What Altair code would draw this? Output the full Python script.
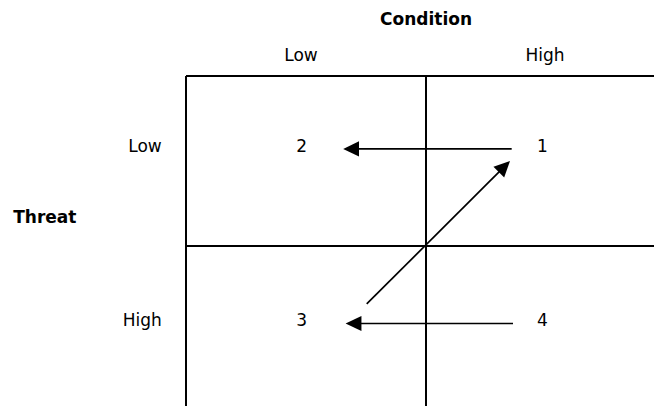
import math
import altair as alt
import pandas as pd

# ---------------- data ----------------
condition_levels = ["Low", "High"]          # columns
threat_levels = ["Low", "High"]             # rows
quadrant_numbers = [[2, 1], [3, 4]]         # [row][col]
row_title = "Threat"
col_title = "Condition"

# arrows (start -> tip) in grid units (1 unit = one cell)
arrow_start_u = [1.357, 0.753, 1.3625]
arrow_start_v = [0.429, 1.341, 1.456]
arrow_tip_u = [0.655, 1.350, 0.665]
arrow_tip_v = [0.429, 0.500, 1.456]

# ---------------- layout ----------------
CELL_W, CELL_H = 240.0, 170.0        # pixels per grid unit
ORIGIN_X, ORIGIN_Y = 186.0, 76.0     # window pixel of grid (0,0)
W, H = 646, 398
x_dom = [(8 - ORIGIN_X) / CELL_W, (8 + W - ORIGIN_X) / CELL_W]
y_dom = [(8 - ORIGIN_Y) / CELL_H, (8 + H - ORIGIN_Y) / CELL_H]

xs = alt.Scale(domain=x_dom, nice=False, zero=False)
ys = alt.Scale(domain=y_dom, nice=False, zero=False, reverse=True)
FONT = "DejaVu Sans"
FS = 17

# grid lines
grid = pd.DataFrame({
    "u": [0, 0, 1, 0], "v": [0, 0, 0, 1],
    "u2": [2, 0, 1, 2], "v2": [0, 2, 2, 1],
})
grid_layer = alt.Chart(grid).mark_rule(color="black", strokeWidth=2, clip=True).encode(
    x=alt.X("u:Q", scale=xs, axis=None), y=alt.Y("v:Q", scale=ys, axis=None),
    x2="u2:Q", y2="v2:Q")

# quadrant numbers
num_u = [0.482, 1.485]
num_v = [0.42, 1.443]
nums = pd.DataFrame([
    {"u": num_u[c], "v": num_v[r], "t": str(quadrant_numbers[r][c])}
    for r in range(2) for c in range(2)
])
num_layer = alt.Chart(nums).mark_text(font=FONT, fontSize=FS, color="black",
                                      align="center", baseline="middle").encode(
    x=alt.X("u:Q", scale=xs), y=alt.Y("v:Q", scale=ys), text="t:N")

# column labels
cols = pd.DataFrame({"u": [0.479, 1.496], "v": [-0.118, -0.118], "t": condition_levels})
col_layer = alt.Chart(cols).mark_text(font=FONT, fontSize=FS, color="black",
                                      align="center", baseline="middle").encode(
    x=alt.X("u:Q", scale=xs), y=alt.Y("v:Q", scale=ys), text="t:N")

# row labels
rows = pd.DataFrame({"u": [-0.101, -0.101], "v": [0.42, 1.443], "t": threat_levels})
row_layer = alt.Chart(rows).mark_text(font=FONT, fontSize=FS, color="black",
                                      align="right", baseline="middle").encode(
    x=alt.X("u:Q", scale=xs), y=alt.Y("v:Q", scale=ys), text="t:N")

# titles
titles = pd.DataFrame({"u": [1.0], "v": [-0.33], "t": [col_title]})
title_layer = alt.Chart(titles).mark_text(font=FONT, fontSize=FS, fontWeight="bold", color="black",
                                          align="center", baseline="middle").encode(
    x=alt.X("u:Q", scale=xs), y=alt.Y("v:Q", scale=ys), text="t:N")
rtitles = pd.DataFrame({"u": [-0.72], "v": [0.835], "t": [row_title]})
rtitle_layer = alt.Chart(rtitles).mark_text(font=FONT, fontSize=FS, fontWeight="bold", color="black",
                                            align="left", baseline="middle").encode(
    x=alt.X("u:Q", scale=xs), y=alt.Y("v:Q", scale=ys), text="t:N")

# arrows
recs = []
for su, sv, tu, tv in zip(arrow_start_u, arrow_start_v, arrow_tip_u, arrow_tip_v):
    dx = (tu - su) * CELL_W
    dy = (tv - sv) * CELL_H
    L = math.hypot(dx, dy)
    ex, ey = dx / L, dy / L
    back = 8.0
    recs.append({
        "su": su, "sv": sv,
        "eu": tu - ex * back / CELL_W, "ev": tv - ey * back / CELL_H,
        "tu": tu, "tv": tv,
        "ang": math.degrees(math.atan2(dy, dx)) % 360,
    })
arrows = pd.DataFrame(recs)
shaft = alt.Chart(arrows).mark_rule(color="black", strokeWidth=1.7).encode(
    x=alt.X("su:Q", scale=xs), y=alt.Y("sv:Q", scale=ys), x2="eu:Q", y2="ev:Q")
head = alt.Chart(arrows).mark_point(
    shape="M0,0L-1,-0.48L-1,0.48Z", size=1000, filled=True, color="black", opacity=1, strokeWidth=0
).encode(
    x=alt.X("tu:Q", scale=xs), y=alt.Y("tv:Q", scale=ys),
    angle=alt.Angle("ang:Q", scale=None))

chart = alt.layer(grid_layer, shaft, head, num_layer, col_layer, row_layer,
                  title_layer, rtitle_layer).properties(
    width=W, height=H, autosize=alt.AutoSizeParams(type="none"), padding=0,
    background="white"
).configure_view(stroke=None)

chart.save("out.html", embed_options={"renderer": "svg", "actions": False})
